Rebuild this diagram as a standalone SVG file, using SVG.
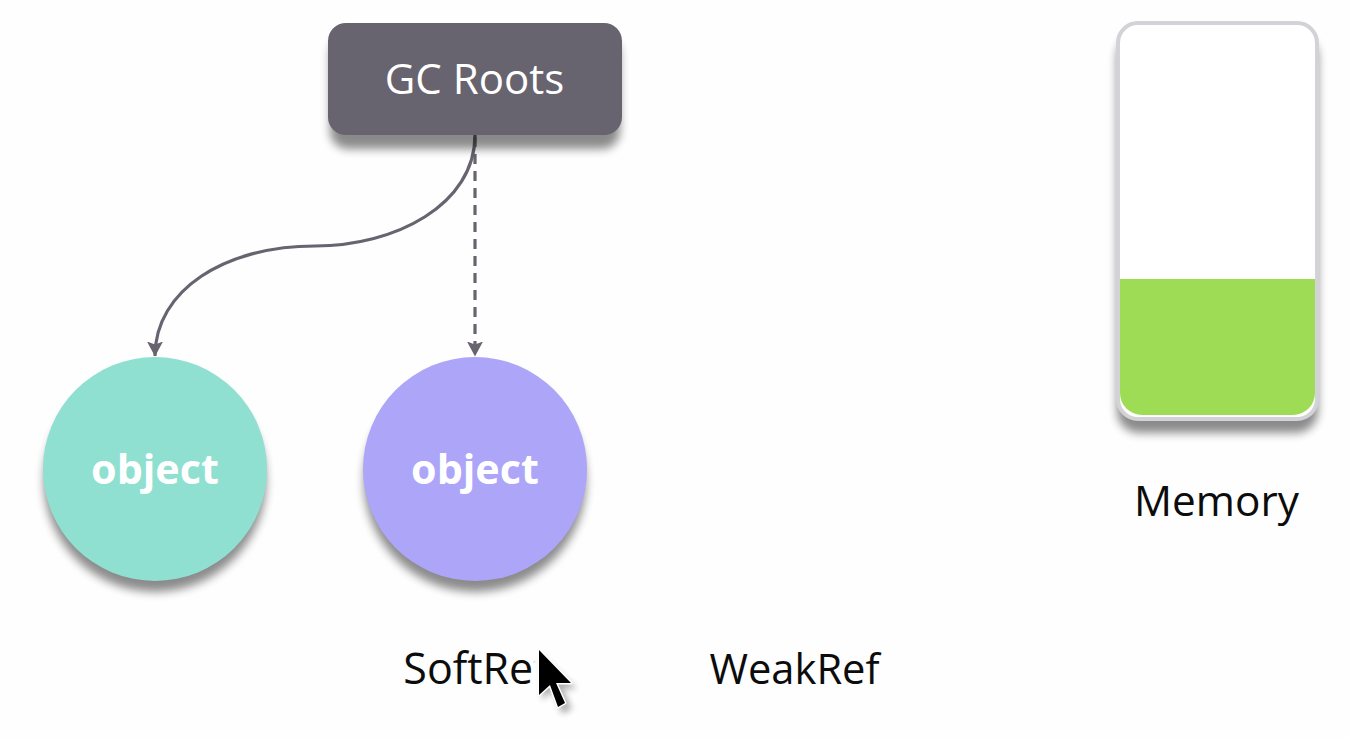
<svg xmlns="http://www.w3.org/2000/svg" width="1350" height="738" viewBox="0 0 1350 738">
<style>
text{font-family:"Open Sans","Noto Sans","Liberation Sans",sans-serif}
.lbl{fill:#0c0c0c;text-anchor:middle}
.obj{font-size:41.300px;font-weight:700;fill:#fff;text-anchor:middle}
.conn{fill:none;stroke:#67636f;stroke-width:3.200}
.sh{fill:#000;opacity:.45}
</style>
<defs>
<filter id="sh" x="-20%" y="-20%" width="140%" height="150%"><feGaussianBlur stdDeviation="5"/></filter>
<filter id="cs" x="-40%" y="-40%" width="180%" height="180%"><feGaussianBlur stdDeviation="3"/></filter>
<filter id="ch" x="-40%" y="-40%" width="180%" height="180%"><feGaussianBlur stdDeviation="1.500"/></filter>
<marker id="arr" markerUnits="userSpaceOnUse" viewBox="0 0 15 16" refX="14.500" refY="8" markerWidth="15" markerHeight="16" orient="auto"><path d="M0 0L15 8L0 16L3 8Z" fill="#67636f"/></marker>
</defs>
<rect width="1350" height="738" fill="#fefefe"/>
<g id="connectors">
<path class="conn" marker-end="url(#arr)" d="M475 135C475 205 395 246 315 246C225 246 155 290 155 356"/>
<path class="conn" marker-end="url(#arr)" stroke-dasharray="10 7" d="M475 137V356"/>
</g>
<g id="gc-roots">
<rect class="sh" x="330" y="36" width="290" height="113" rx="18" filter="url(#sh)"/>
<rect x="328" y="23" width="294" height="112" rx="18" fill="#67636f"/>
<text x="474.500" y="94" font-size="42px" fill="#fff" text-anchor="middle">GC Roots</text>
</g>
<g id="object-green">
<circle class="sh" cx="155" cy="481" r="111" filter="url(#sh)"/>
<circle cx="155" cy="469" r="112" fill="#8fe0d0"/>
<text class="obj" x="155" y="484">object</text>
</g>
<g id="object-purple">
<circle class="sh" cx="475" cy="481" r="111" filter="url(#sh)"/>
<circle cx="475" cy="469" r="112" fill="#aca5f8"/>
<text class="obj" x="475" y="484">object</text>
</g>
<g id="memory">
<rect class="sh" x="1117" y="35" width="201" height="398" rx="22" filter="url(#sh)"/>
<rect x="1118" y="23" width="199" height="396" rx="20" fill="#fff" stroke="#d3d2d6" stroke-width="4"/>
<path d="M1120 279H1315V393a22 22 0 0 1-22 22H1142a22 22 0 0 1-22-22Z" fill="#9edc55"/>
<text class="lbl" x="1216.500" y="516" font-size="42.300px">Memory</text>
</g>
<g id="softref"><text class="lbl" x="475.500" y="684" font-size="43px">SoftRef</text></g>
<g id="weakref"><text class="lbl" x="794.500" y="684" font-size="41.700px">WeakRef</text></g>
<g id="cursor">
<path d="M533 645H560V685H533Z" fill="#fefefe" filter="url(#ch)"/>
<path d="M541 656L542 700L553 691L562 714L572 709L563 689L577 689Z" fill="#000" opacity=".3" filter="url(#cs)"/>
<path d="M539 650V695L550 685L558 707L565 703L556 683L571 683Z" fill="#000" stroke="#fff" stroke-width="3" stroke-linejoin="round" paint-order="stroke"/>
</g>
</svg>
